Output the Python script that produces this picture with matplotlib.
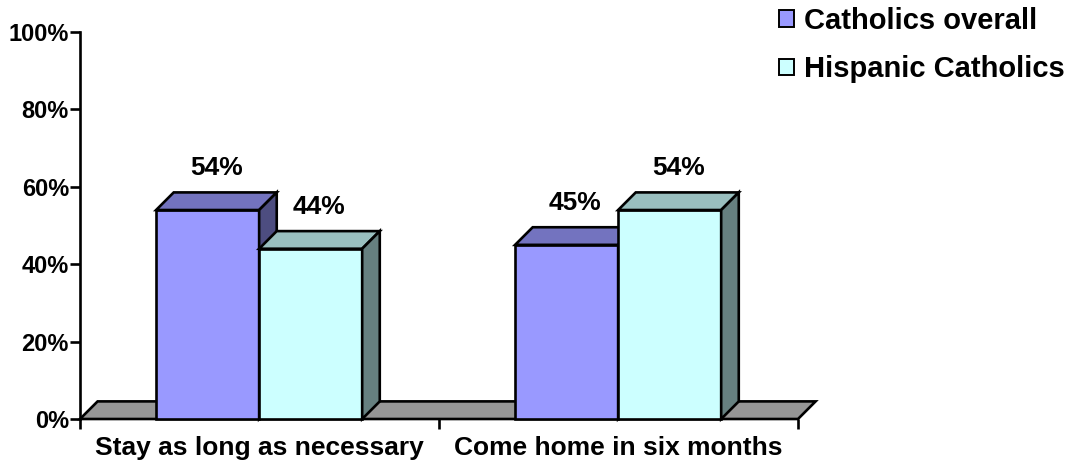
import matplotlib
matplotlib.use("Agg")
import matplotlib.pyplot as plt
from matplotlib.patches import Polygon, Patch

# ---- data ----
categories = ["Stay as long as necessary", "Come home in six months"]
series_names = ["Catholics overall", "Hispanic Catholics"]
catholics_overall = [54, 45]
hispanic_catholics = [44, 54]
yticks = [0, 20, 40, 60, 80, 100]
ytick_labels = ["0%", "20%", "40%", "60%", "80%", "100%"]

# ---- style ----
front_colors = ["#9999FF", "#CCFFFF"]
top_colors = ["#7373BF", "#99BFBF"]
side_colors = ["#4D4D80", "#668080"]
floor_color = "#969696"
EDGE = "black"
LW = 1.9
BAR_W = 0.287
GROUP_OFF = 0.212
DX = 0.049   # depth in x data units
DY = 4.55    # depth in y data units

plt.rcParams['font.family'] = ['Liberation Sans', 'DejaVu Sans']
plt.rcParams['font.weight'] = 'bold'

fig = plt.figure(figsize=(10.73, 4.65), dpi=100)
ax = fig.add_axes([80/1073, (465-419)/465, (798-80)/1073, (419-32)/465])
ax.set_xlim(0, 2)
ax.set_ylim(0, 100)

def face(pts, color):
    ax.add_patch(Polygon(pts, closed=True, facecolor=color, edgecolor=EDGE,
                         linewidth=LW, joinstyle='miter', clip_on=False))

# floor
face([(0, 0), (2, 0), (2 + DX, DY), (0 + DX, DY)], floor_color)

all_series = [catholics_overall, hispanic_catholics]
for ci in range(len(categories)):
    for si, vals in enumerate(all_series):
        v = vals[ci]
        x0 = ci + GROUP_OFF + si * BAR_W
        x1 = x0 + BAR_W
        face([(x0, 0), (x1, 0), (x1, v), (x0, v)], front_colors[si])
        face([(x0, v), (x1, v), (x1 + DX, v + DY), (x0 + DX, v + DY)], top_colors[si])
        face([(x1, 0), (x1 + DX, DY), (x1 + DX, v + DY), (x1, v)], side_colors[si])
        ax.annotate(f"{v}%", xy=((x0 + x1) / 2 + DX / 2, v + DY), xytext=(0, 9),
                    textcoords="offset points", ha="center", va="bottom",
                    fontsize=19, fontweight="bold")

# axes styling
for s in ["top", "right", "bottom"]:
    ax.spines[s].set_visible(False)
ax.spines["left"].set_linewidth(LW)
ax.spines["left"].set_zorder(5)
ax.set_yticks(yticks)
ax.set_yticklabels(ytick_labels, fontsize=17, fontweight="bold")
ax.tick_params(axis="y", length=7, width=LW, pad=1)
ax.set_xticks([0, 1, 2], minor=True)
ax.set_xticks([0.5, 1.5])
ax.set_xticklabels(categories, fontsize=19, fontweight="bold")
ax.tick_params(axis="x", which="major", length=0, pad=12)
ax.tick_params(axis="x", which="minor", length=7, width=LW)
ax.patch.set_visible(False)

handles = [Patch(facecolor=front_colors[i], edgecolor=EDGE, linewidth=1.4) for i in range(2)]
fig.legend(handles, series_names, loc="upper left", bbox_to_anchor=(776/1073, 1 - 4/465),
           frameon=False, prop={'weight': 'bold', 'size': 21},
           handlelength=0.5, handleheight=0.5, handletextpad=0.35, labelspacing=0.7,
           borderaxespad=0.0, borderpad=0.1)

fig.savefig("out.png", dpi=100)
